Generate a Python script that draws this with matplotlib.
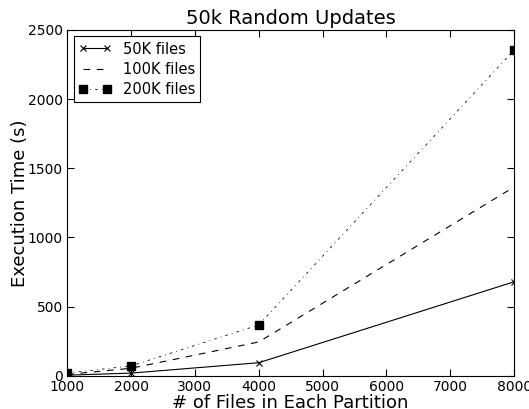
import matplotlib
matplotlib.use("Agg")
import matplotlib.pyplot as plt

# partition sizes and execution times (seconds)
files_per_partition = [1000, 2000, 4000, 8000]
time_50k = [5, 20, 95, 680]
time_100k = [10, 55, 245, 1365]
time_200k = [20, 72, 368, 2355]

plt.rcParams["lines.dashed_pattern"] = [6, 6]
plt.rcParams["lines.dashdot_pattern"] = [3, 5, 1, 5]

fig = plt.figure(figsize=(5.29, 4.09), dpi=100)
ax = fig.add_axes([0.127, 0.081, 0.845, 0.846])

ax.plot(files_per_partition, time_50k, "k-x", lw=0.8, ms=5, mew=0.8, label="50K files")
ax.plot(files_per_partition, time_100k, "k--", lw=0.8, label="100K files")
ax.plot(files_per_partition, time_200k, "k-.", lw=0.6, marker="s", ms=6,
        label="200K files")

ax.set_xlim(1000, 8000)
ax.set_ylim(0, 2500)
ax.set_xticks(range(1000, 8001, 1000))
ax.set_yticks(range(0, 2501, 500))
ax.tick_params(direction="in", top=True, right=True, labelsize=10, length=5, pad=3)
for s in ax.spines.values():
    s.set_linewidth(0.8)

ax.set_title("50k Random Updates", fontsize=14, pad=4)
ax.set_xlabel("# of Files in Each Partition", fontsize=13, labelpad=0)
ax.set_ylabel("Execution Time (s)", fontsize=13, labelpad=-1)

leg = ax.legend(loc="upper left", fontsize=10.5, fancybox=False, framealpha=1,
                edgecolor="black", borderaxespad=0.45, handlelength=2.2,
                numpoints=2, labelspacing=0.35, borderpad=0.35)
leg.get_frame().set_linewidth(0.8)

fig.savefig("out.png", dpi=100)
